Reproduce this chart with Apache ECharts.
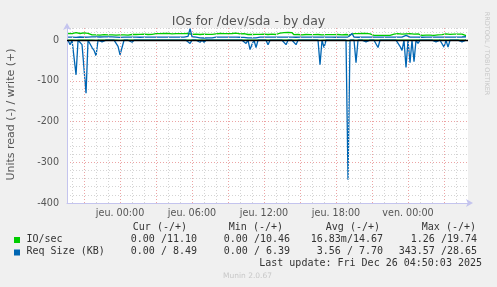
<!DOCTYPE html>
<html><head><meta charset="utf-8">
<script src="https://cdn.jsdelivr.net/npm/echarts@6/dist/echarts.min.js"></script>
<style>html,body{margin:0;padding:0;background:#f0f0f0}#c{width:497px;height:287px}</style>
</head><body><div id="c"></div>
<script>
// ---- data ----
const titleText = 'IOs for /dev/sda - by day';
const yAxisTitle = 'Units read (-) / write (+)';
const startHour = -4.333;          // Wed 19:40 relative to Thu 00:00
const stepHours = 1 / 6;           // 10 minute samples
const tickHours = [0, 6, 12, 18, 24];
const tickLabels = ['jeu. 00:00', 'jeu. 06:00', 'jeu. 12:00', 'jeu. 18:00', 'ven. 00:00'];
const seriesNames = ['IO/sec', 'Req Size (KB)'];
const statHeaders = ['Cur (-/+)', 'Min (-/+)', 'Avg (-/+)', 'Max (-/+)'];
const ioStats = ['0.00 /11.10', '0.00 /10.46', '16.83m/14.67', '1.26 /19.74'];
const reqStats = ['0.00 / 8.49', '0.00 / 6.39', '3.56 / 7.70', '343.57 /28.65'];
const lastUpdate = 'Last update: Fri Dec 26 04:50:03 2025';
const footer = 'Munin 2.0.67';
const sideText = 'RRDTOOL / TOBI OETIKER';

const ioWrite = [
16.5,17.5,16,17,18.5,17,16.5,17.5,18,16.5,17,15.5,
13,12.5,13,12,12.5,13,13.5,12.5,13,12,13,13.5,12.5,12,13,12.5,13,13.5,12.5,13,14,
14.5,14,15,14.5,14,15,14.5,14,15,14.5,15.5,16,16.5,
16,15.5,16.5,16,17,16,15.5,16.5,16,15,16,16.5,16,15.5,16.5,17,
14.5,14,15,14.5,14,14.5,15,14,14.5,15,14.5,14,15.5,16,16.5,15.5,16,16.5,
16,17,16.5,16,17.5,16,15.5,16.5,16,14.5,14,14.5,14,15,14.5,14,
14.5,14,15,14.5,14,14.5,15,14.5,14,15,17.5,
18,18.5,18,19,18,18.5,
13.5,13,14,13.5,13,13.5,14,13,13.5,14,13.5,13,14,13.5,13,14,13.5,13,13.5,14,13.5,13,14,13.5,13,13.5,14,13.5,13,14,
16,16.5,16,15.5,16.5,16,17,16,15.5,
12.5,12,12.5,12,11.5,12,12.5,12,11.5,12,12.5,
15,15.5,16,15.5,15,16,15.5,15,16,15.5,15,16,15.5,
12.5,12,13,12.5,12,12.5,13,12,12.5,13,12.5,13.5,
15,15.5,15,14.5,15.5,15,15.5,15,14.5,15,13,11.1
];
const ioRead = [
0,0,0,0,-0.3,0,0,0,0,-0.5,
0,0,0,0,-0.2,0,0,0,0,0,
0,0,0,0,0,0,-0.2,0,0,0,
0,0,0,0,0,0,0,0,0,0,
0,0,0,0,0,0,0,0,0,0,
0,0,0,0,0,0,0,0,0,0,
0,0,0,0,0,0,0,0,0,0,
0,0,0,0,0,0,0,0,0,0,
0,0,0,0,0,0,0,0,0,0,
0,0,0,0,0,0,0,0,0,0,
0,0,0,0,0,0,0,0,0,0,
0,0,0,0,0,0,0,0,0,0,
0,0,0,0,0,0,-0.3,0,0,0,
0,0,0,0,0,0,0,0,0,0,
-1.26,0,0,0,-0.2,0,0,0,0,0,
0,0,0,0,0,0,0,0,0,0,
0,0,0,0,0,0,0,0,0,-0.4,
0,-0.3,0,-0.3,0,0,0,0,0,0,
0,0,0,0,0,0,0,0,0,0,
0,0,0,0,0,0,0,0,0,0
];
const reqWrite = [
7.6,7.4,7.8,7.5,7.2,7.6,7.9,7.4,7.3,7.7,
7.5,7.8,8.2,8.0,8.4,8.1,7.9,8.2,8.0,8.3,
8.1,7.9,8.2,8.0,7.8,7.5,7.2,7.6,7.4,7.8,
7.5,7.7,7.4,7.6,7.8,7.5,7.3,7.6,7.4,7.7,
7.5,7.8,7.6,7.4,7.7,7.5,7.8,7.6,7.4,7.7,
7.5,7.3,7.6,7.8,7.5,7.4,7.7,7.5,7.6,7.4,
9.5,28.6,8.5,7.6,7.4,6.5,5.6,5.8,5.4,5.9,
5.6,5.5,5.8,6.8,7.4,7.6,7.5,7.8,7.4,7.6,
7.5,7.7,7.4,7.6,7.8,7.5,7.3,7.6,7.2,6.0,
5.6,5.4,5.8,5.5,5.7,6.2,7.4,7.6,7.5,7.3,
7.6,7.4,7.7,7.5,7.8,7.6,7.4,7.7,7.5,7.6,
7.8,7.5,7.4,7.6,7.3,7.7,7.5,7.6,7.4,7.8,
7.5,7.3,7.6,7.4,7.7,7.5,7.8,7.4,7.6,7.5,
7.7,7.4,7.6,7.5,7.3,7.6,7.4,7.7,7.5,7.6,
7.4,7.8,16.5,7.6,7.5,7.3,7.6,7.4,7.7,7.5,
7.6,7.4,7.2,7.5,7.3,7.6,7.4,7.5,7.3,7.6,
7.4,7.5,7.3,7.6,7.4,7.7,7.5,7.6,7.4,12.0,
7.8,7.6,7.5,7.7,7.4,7.6,7.5,7.3,7.6,7.4,
7.7,7.5,7.6,7.4,7.8,7.5,7.6,7.4,7.7,7.5,
7.6,7.4,7.8,7.5,7.6,7.4,7.7,7.9,8.2,8.49
];
const reqRead = [
0,-11,0,0,-85,0,0,-11,-11,-130,
0,0,-18,-25,-38,0,0,-4,0,0,
0,0,-4,0,0,-15,-36,-18,0,0,
0,0,-5,0,0,0,0,0,-4,0,
0,0,0,0,0,0,0,0,0,0,
0,0,-3,0,0,0,0,0,0,0,
0,-8,0,0,0,0,-5,0,-5,0,
0,0,-4,0,0,0,0,0,0,0,
0,0,0,0,0,0,0,0,0,-8,
0,-23,-10,0,-18,0,0,0,0,0,
-11,0,0,0,0,0,0,0,0,-11,
0,0,0,0,-11,0,0,0,0,0,
0,0,0,0,0,0,-60,0,-18,0,
0,0,0,0,-3,0,0,0,-3,0,
-343,0,0,0,-55,0,0,0,0,-4,
0,0,0,0,0,-18,0,0,0,0,
0,0,0,0,0,0,-15,-25,0,-67,
0,-55,0,-53,0,-8,0,0,0,-4,
0,0,0,0,-4,0,0,0,-17,0,
-17,0,0,0,0,0,0,-4,0,0
];

// ---- build ----
const pairs = arr => arr.map((v, i) => [startHour + i * stepHours, v]);
const GREEN = '#00cc00', BLUE = '#0066b3';
const MAJOR = '#eca4a4', MINOR = '#d4d4d4', AXIS = '#c4c4ee';
const hourLines = [];
for (let h = -4; h <= 28; h++) {
  hourLines.push({ xAxis: h, lineStyle: { color: h % 3 === 0 ? MAJOR : MINOR } });
}
const lineSeries = (name, data, color, z) => ({
  type: 'line', name, data: pairs(data), showSymbol: false, symbol: 'none',
  lineStyle: { color, width: 1.3 }, itemStyle: { color }, z, silent: true
});

const chart = echarts.init(document.getElementById('c'), null, { renderer: 'canvas' });
const mono = '10px "DejaVu Sans Mono"';
const txt = (text, x, y, align, font, fill) => ({
  type: 'text', x, y, silent: true,
  style: { text, x: 0, y: 0, font: font || mono, fill: fill || '#333', align: align || 'left', verticalAlign: 'middle', textAlign: align || 'left', textVerticalAlign: 'middle' }
});
const colRight = [197, 290, 383, 477];
const headRight = [187, 283, 380, 476];
const graphics = [];
statHeaders.forEach((h, k) => graphics.push(txt(h, headRight[k], 227.5, 'right')));
graphics.push({ type: 'rect', shape: { x: 14, y: 237, width: 6, height: 6 }, style: { fill: GREEN }, silent: true });
graphics.push({ type: 'rect', shape: { x: 14, y: 249.5, width: 6, height: 6 }, style: { fill: BLUE }, silent: true });
graphics.push(txt(seriesNames[0], 26.5, 239.5));
graphics.push(txt(seriesNames[1], 26.5, 251.8));
ioStats.forEach((s, k) => graphics.push(txt(s, colRight[k], 239.5, 'right')));
reqStats.forEach((s, k) => graphics.push(txt(s, colRight[k], 251.8, 'right')));
graphics.push(txt(lastUpdate, 482, 263.8, 'right'));
graphics.push(txt(footer, 247.5, 276, 'center', '7.5px "DejaVu Sans"', '#c8c8c8'));
graphics.push({ type: 'text', x: 11, y: 114.5, rotation: Math.PI / 2, silent: true,
  style: { text: yAxisTitle, font: '11px "DejaVu Sans"', fill: '#555', align: 'center', verticalAlign: 'middle', textAlign: 'center', textVerticalAlign: 'middle' } });
graphics.push({ type: 'text', x: 487, y: 53.5, rotation: -Math.PI / 2, silent: true,
  style: { text: sideText, font: '6.5px "DejaVu Sans"', fill: '#c8c8c8', align: 'center', verticalAlign: 'middle', textAlign: 'center', textVerticalAlign: 'middle' } });

chart.setOption({
  animation: false,
  backgroundColor: '#f0f0f0',
  title: { text: titleText, left: 'center', top: 10, textStyle: { fontFamily: 'DejaVu Sans', fontSize: 12.5, fontWeight: 'normal', color: '#555' } },
  grid: { left: 67, right: 29, top: 28, bottom: 84, show: true, backgroundColor: '#ffffff', borderWidth: 0 },
  xAxis: {
    type: 'value', min: -4.42, max: 29.0,
    axisLine: { show: true, onZero: false, lineStyle: { color: AXIS, width: 1 }, symbol: ['none', 'arrow'], symbolSize: [6, 7], symbolOffset: [0, 5] },
    axisTick: { show: false },
    splitLine: { show: false },
    axisLabel: {
      customValues: tickHours, margin: 5, color: '#555', fontFamily: 'DejaVu Sans', fontSize: 9.6,
      formatter: v => { const k = tickHours.indexOf(Math.round(v)); return k >= 0 && Math.abs(v - tickHours[k]) < 1e-6 ? tickLabels[k] : ''; }
    }
  },
  yAxis: {
    type: 'value', min: -400, max: 30, interval: 20,
    axisLine: { show: true, onZero: false, lineStyle: { color: AXIS, width: 1 }, symbol: ['none', 'arrow'], symbolSize: [6, 7], symbolOffset: [0, 5] },
    axisTick: { show: false },
    axisLabel: { margin: 8, color: '#555', fontFamily: 'DejaVu Sans', fontSize: 9.6, formatter: v => (v % 100 === 0 ? String(v) : '') },
    splitLine: { show: true, lineStyle: { color: [MAJOR, MINOR, MINOR, MINOR, MINOR], type: [1, 2], width: 1 } }
  },
  graphic: graphics,
  series: [
    { type: 'line', data: [], silent: true, z: 1,
      markLine: { silent: true, symbol: ['none', 'none'], label: { show: false }, animation: false,
        lineStyle: { type: [1, 2], width: 1 }, data: hourLines } },
    lineSeries(seriesNames[0] + ' read', ioRead, GREEN, 3),
    lineSeries(seriesNames[0], ioWrite, GREEN, 3),
    lineSeries(seriesNames[1] + ' read', reqRead, BLUE, 4),
    lineSeries(seriesNames[1], reqWrite, BLUE, 4),
    { type: 'line', data: [], silent: true, z: 6,
      markLine: { silent: true, symbol: ['none', 'none'], label: { show: false }, animation: false,
        lineStyle: { type: 'solid', width: 1.3, color: '#000' }, data: [{ yAxis: 0 }] } }
  ]
});
</script></body></html>
